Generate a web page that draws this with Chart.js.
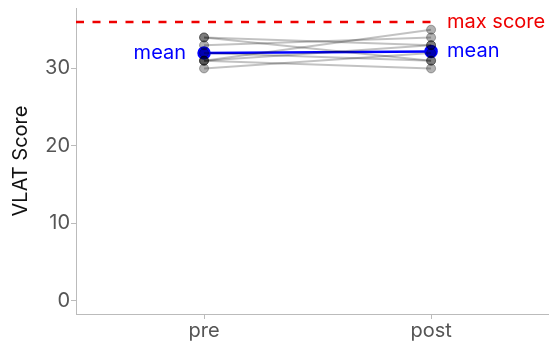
<!DOCTYPE html>
<html>
<head>
<meta charset="utf-8">
<script src="https://cdn.jsdelivr.net/npm/chart.js@4.4.0/dist/chart.umd.min.js"></script>
<style>
html,body{margin:0;padding:0;background:#fff;}
#c{display:block;}
</style>
</head>
<body>
<canvas id="c" width="550" height="341"></canvas>
<script>
const categories = ['pre', 'post'];
const preScores  = [34, 34, 33, 31, 31, 31, 30, 32];
const postScores = [31, 33, 34, 35, 33, 30, 32, 31];
const meanScores = [32, 32.2];
const maxScore = 36;
const yTicks = [0, 10, 20, 30];

const FONT = 'Inter, "Noto Sans", sans-serif';

const datasets = [];
preScores.forEach((p, i) => {
  datasets.push({
    data: [{x: 0, y: p}, {x: 1, y: postScores[i]}],
    showLine: true,
    borderColor: 'rgba(0,0,0,0.24)',
    borderWidth: 2,
    pointRadius: 4.5,
    pointBackgroundColor: 'rgba(0,0,0,0.3)',
    pointBorderColor: 'rgba(0,0,0,0.3)',
    pointBorderWidth: 1
  });
});
datasets.push({
  data: [{x: 0, y: meanScores[0]}, {x: 1, y: meanScores[1]}],
  showLine: true,
  borderColor: '#0000ff',
  borderWidth: 2.5,
  pointRadius: 5.5,
  pointBackgroundColor: '#0000ff',
  pointBorderColor: '#0000ff'
});
datasets.push({
  data: [{x: -0.564, y: maxScore}, {x: 1.0, y: maxScore}],
  showLine: true,
  borderColor: '#ee0000',
  borderWidth: 2.5,
  borderDash: [8, 8.5],
  pointRadius: 0
});

const labelPlugin = {
  id: 'labels',
  afterDatasetsDraw(chart) {
    const ctx = chart.ctx;
    const xs = chart.scales.x, ys = chart.scales.y;
    ctx.save();
    ctx.font = '20px ' + FONT;
    ctx.textBaseline = 'middle';
    ctx.fillStyle = '#ee0000';
    ctx.textAlign = 'left';
    ctx.fillText('max score', xs.getPixelForValue(1) + 16, ys.getPixelForValue(maxScore));
    ctx.fillStyle = '#0000ff';
    ctx.fillText('mean', xs.getPixelForValue(1) + 16, ys.getPixelForValue(meanScores[1]));
    ctx.textAlign = 'right';
    ctx.fillText('mean', xs.getPixelForValue(0) - 18, ys.getPixelForValue(meanScores[0]));
    ctx.restore();
  }
};

new Chart(document.getElementById('c'), {
  type: 'scatter',
  data: { datasets },
  plugins: [labelPlugin],
  options: {
    responsive: false,
    animation: false,
    layout: { autoPadding: false, padding: { top: 8, right: 2, left: 0, bottom: 0 } },
    plugins: { legend: { display: false }, tooltip: { enabled: false } },
    scales: {
      x: {
        type: 'linear',
        min: -0.564,
        max: 1.515,
        afterBuildTicks: s => { s.ticks = [{value: 0}, {value: 1}]; },
        afterFit: s => { s.height = 27; s.paddingLeft = 0; s.paddingRight = 0; },
        ticks: {
          callback: v => categories[v],
          color: '#555',
          font: { size: 20, family: FONT },
          padding: 0,
          maxRotation: 0,
          autoSkip: false
        },
        grid: { drawOnChartArea: false, color: '#bbb', tickLength: 5 },
        border: { color: '#bbb' }
      },
      y: {
        min: -1.7,
        max: 37.8,
        afterBuildTicks: s => { s.ticks = yTicks.map(v => ({value: v})); },
        afterFit: s => { s.width = 76; s.paddingTop = 0; s.paddingBottom = 0; },
        ticks: {
          color: '#555',
          font: { size: 20, family: FONT },
          padding: 1,
          autoSkip: false
        },
        grid: { drawOnChartArea: false, color: '#bbb', tickLength: 5 },
        border: { color: '#bbb' },
        title: {
          display: true,
          text: 'VLAT Score',
          color: '#111',
          font: { size: 20, family: FONT },
          padding: { top: 9, bottom: 0 }
        }
      }
    }
  }
});
</script>
</body>
</html>
